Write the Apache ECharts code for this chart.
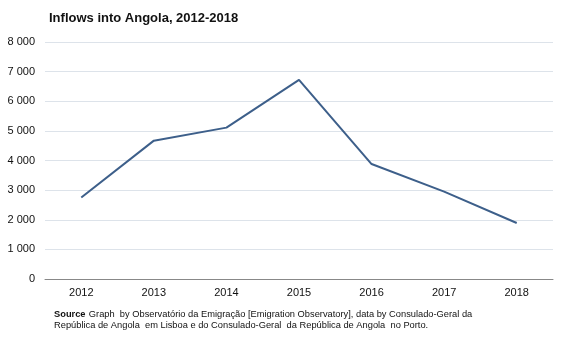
<!DOCTYPE html>
<html>
<head>
<meta charset="utf-8">
<script src="https://cdn.jsdelivr.net/npm/echarts@6/dist/echarts.min.js"></script>
<style>
  html, body { margin: 0; padding: 0; background: #fff; }
  #chart { width: 567px; height: 340px; }
</style>
</head>
<body>
<div id="chart"></div>
<script>
// Inflows into Angola by year
const years = ['2012', '2013', '2014', '2015', '2016', '2017', '2018'];
const inflows = [2750, 4670, 5110, 6720, 3880, 2950, 1890];
const yTicks = [0, 1000, 2000, 3000, 4000, 5000, 6000, 7000, 8000];

const fmt = v => String(v).replace(/\B(?=(\d{3})+(?!\d))/g, ' ');
const FONT = 'Liberation Sans, Arial, sans-serif';

const chart = echarts.init(document.getElementById('chart'), null, { renderer: 'canvas' });
chart.setOption({
  animation: false,
  backgroundColor: '#ffffff',
  textStyle: { fontFamily: FONT },
  title: {
    text: 'Inflows into Angola, 2012-2018',
    left: 44, top: 7,
    textStyle: { fontSize: 13, fontWeight: 'bold', color: '#111', fontFamily: FONT }
  },
  graphic: [{
    type: 'text',
    left: 54, top: 308,
    style: {
      rich: {
        b: { fontWeight: 'bold', fontSize: 9.3, fill: '#111', fontFamily: FONT },
        n: { fontSize: 9.3, fill: '#111', fontFamily: FONT }
      },
      text: '{b|Source} {n|Graph  by Observatório da Emigração [Emigration Observatory], data by Consulado-Geral da}\n{n|República de Angola  em Lisboa e do Consulado-Geral  da República de Angola  no Porto.}',
      lineHeight: 11
    }
  }],
  grid: { left: 45, right: 14, top: 42, bottom: 61 },
  xAxis: {
    type: 'category',
    data: years,
    boundaryGap: true,
    axisLine: { lineStyle: { color: '#888', width: 1 } },
    axisTick: { show: false },
    axisLabel: { color: '#111', fontSize: 11, margin: 8 }
  },
  yAxis: {
    type: 'value',
    min: yTicks[0],
    max: yTicks[yTicks.length - 1],
    interval: 1000,
    axisLine: { show: false },
    axisTick: { show: false },
    axisLabel: { color: '#111', fontSize: 11, margin: 10, formatter: v => fmt(v) },
    splitLine: { lineStyle: { color: '#dde3ea', width: 1 } }
  },
  series: [{
    type: 'line',
    data: inflows,
    symbol: 'none',
    lineStyle: { color: '#3d5f8a', width: 2 }
  }]
});
</script>
</body>
</html>
